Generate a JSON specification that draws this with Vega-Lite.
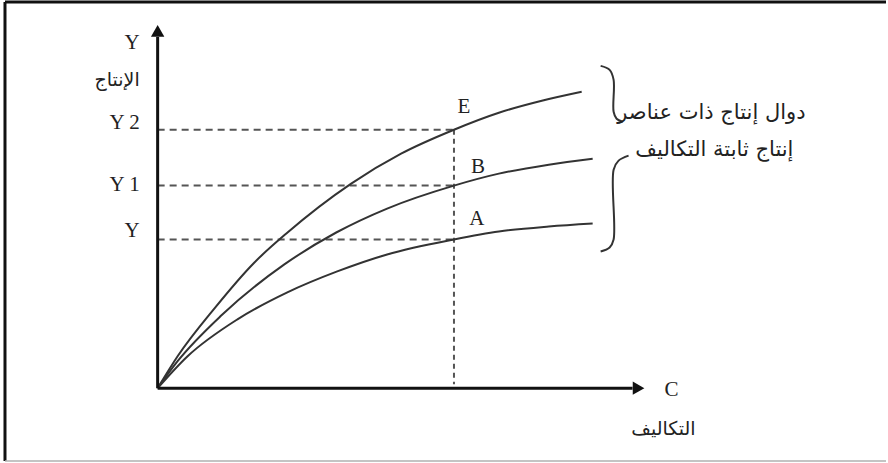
{
  "$schema": "https://vega.github.io/schema/vega-lite/v6.json",
  "width": 888,
  "height": 463,
  "autosize": {"type": "fit", "contains": "padding"},
  "padding": 0,
  "background": "white",
  "config": {"view": {"stroke": null}},
  "datasets": {
    "curves": [
      {"curve": "E", "x": 0, "y": 0}, {"curve": "E", "x": 20, "y": 32}, {"curve": "E", "x": 57, "y": 80}, {"curve": "E", "x": 97, "y": 126}, {"curve": "E", "x": 129, "y": 155}, {"curve": "E", "x": 194, "y": 205}, {"curve": "E", "x": 244, "y": 235}, {"curve": "E", "x": 297, "y": 259}, {"curve": "E", "x": 342, "y": 276}, {"curve": "E", "x": 385, "y": 288}, {"curve": "E", "x": 425, "y": 297},
      {"curve": "B", "x": 0, "y": 0}, {"curve": "B", "x": 20, "y": 27}, {"curve": "B", "x": 64, "y": 73}, {"curve": "B", "x": 127, "y": 124}, {"curve": "B", "x": 179, "y": 156}, {"curve": "B", "x": 230, "y": 180}, {"curve": "B", "x": 297, "y": 203}, {"curve": "B", "x": 342, "y": 215}, {"curve": "B", "x": 392, "y": 224}, {"curve": "B", "x": 436, "y": 230},
      {"curve": "A", "x": 0, "y": 0}, {"curve": "A", "x": 30, "y": 32}, {"curve": "A", "x": 80, "y": 69}, {"curve": "A", "x": 130, "y": 96}, {"curve": "A", "x": 180, "y": 117}, {"curve": "A", "x": 230, "y": 134}, {"curve": "A", "x": 297, "y": 149}, {"curve": "A", "x": 342, "y": 157}, {"curve": "A", "x": 392, "y": 162}, {"curve": "A", "x": 436, "y": 165}
    ],
    "dashes": [
      {"x": 0, "y": 259, "x2": 297, "y2": 259},
      {"x": 0, "y": 203, "x2": 297, "y2": 203},
      {"x": 0, "y": 149, "x2": 297, "y2": 149}
    ],
    "vdash": [
      {"x": 297, "y": 259, "x2": 297, "y2": 4}
    ],
    "axes": [
      {"x": 0, "y": 0, "x2": 0, "y2": 352},
      {"x": 0, "y": 0, "x2": 476, "y2": 0}
    ],
    "heads": [
      {"x": 0, "y": 358, "dir": "up"},
      {"x": 482, "y": 0, "dir": "right"}
    ],
    "frame": [
      {"x": -153, "y": 387, "x2": 730, "y2": 387, "kind": "dark"},
      {"x": -153, "y": 387, "x2": -153, "y2": -73, "kind": "dark"},
      {"x": -153, "y": -73, "x2": 730, "y2": -73, "kind": "light"}
    ],
    "brace": [
      {"part": "upper", "o": 1, "x": 444, "y": 323}, {"part": "upper", "o": 2, "x": 453, "y": 319}, {"part": "upper", "o": 3, "x": 457, "y": 309}, {"part": "upper", "o": 4, "x": 457, "y": 277}, {"part": "upper", "o": 5, "x": 460, "y": 270}, {"part": "upper", "o": 6, "x": 466, "y": 267},
      {"part": "lower", "o": 1, "x": 472, "y": 233}, {"part": "lower", "o": 2, "x": 462, "y": 228}, {"part": "lower", "o": 3, "x": 457, "y": 219}, {"part": "lower", "o": 4, "x": 457, "y": 149}, {"part": "lower", "o": 5, "x": 453, "y": 141}, {"part": "lower", "o": 6, "x": 444, "y": 137}
    ],
    "yLabels": [
      {"x": -18, "y": 346, "label": "Y"},
      {"x": -18, "y": 266, "label": "Y  2"},
      {"x": -18, "y": 204, "label": "Y  1"},
      {"x": -18, "y": 158, "label": "Y"}
    ],
    "pointLabels": [
      {"x": 307, "y": 282, "label": "E"},
      {"x": 321, "y": 222, "label": "B"},
      {"x": 320, "y": 170, "label": "A"},
      {"x": 515, "y": -2, "label": "C"}
    ],
    "arabicAxis": [
      {"x": -18, "y": 309, "label": "الإنتاج"}
    ],
    "arabicCenter": [
      {"x": 507, "y": -41, "label": "التكاليف"}
    ],
    "braceText": [
      {"x": 555, "y": 276, "label": "دوال إنتاج ذات عناصر"},
      {"x": 558, "y": 239, "label": "إنتاج ثابتة التكاليف"}
    ]
  },
  "encoding": {
    "x": {"field": "x", "type": "quantitative", "scale": {"domain": [-158, 730], "nice": false, "zero": false}, "axis": null},
    "y": {"field": "y", "type": "quantitative", "scale": {"domain": [-74, 389], "nice": false, "zero": false}, "axis": null}
  },
  "layer": [
    {
      "data": {"name": "frame"},
      "mark": {"type": "rule"},
      "encoding": {
        "x2": {"field": "x2"},
        "y2": {"field": "y2"},
        "color": {"field": "kind", "type": "nominal", "scale": {"domain": ["dark", "light"], "range": ["#111111", "#b0b0b0"]}, "legend": null},
        "strokeWidth": {"field": "kind", "type": "nominal", "scale": {"domain": ["dark", "light"], "range": [3, 1.5]}, "legend": null}
      }
    },
    {
      "data": {"name": "dashes"},
      "mark": {"type": "rule", "color": "#555555", "strokeWidth": 2, "strokeDash": [7, 5]},
      "encoding": {"x2": {"field": "x2"}, "y2": {"field": "y2"}}
    },
    {
      "data": {"name": "vdash"},
      "mark": {"type": "rule", "color": "#555555", "strokeWidth": 2, "strokeDash": [5, 4]},
      "encoding": {"x2": {"field": "x2"}, "y2": {"field": "y2"}}
    },
    {
      "data": {"name": "curves"},
      "mark": {"type": "line", "interpolate": "monotone", "color": "#333333", "strokeWidth": 2},
      "encoding": {"detail": {"field": "curve", "type": "nominal"}}
    },
    {
      "data": {"name": "brace"},
      "mark": {"type": "line", "interpolate": "catmull-rom", "color": "#333333", "strokeWidth": 2},
      "encoding": {"detail": {"field": "part", "type": "nominal"}, "order": {"field": "o", "type": "quantitative"}}
    },
    {
      "data": {"name": "axes"},
      "mark": {"type": "rule", "color": "#111111", "strokeWidth": 3},
      "encoding": {"x2": {"field": "x2"}, "y2": {"field": "y2"}}
    },
    {
      "data": {"name": "heads"},
      "mark": {"type": "point", "filled": true, "color": "#111111", "opacity": 1, "size": 180},
      "encoding": {
        "shape": {"field": "dir", "type": "nominal", "scale": {"domain": ["up", "right"], "range": ["triangle-up", "triangle-right"]}, "legend": null}
      }
    },
    {
      "data": {"name": "yLabels"},
      "mark": {"type": "text", "font": "Liberation Serif", "fontSize": 21, "color": "#222222", "baseline": "middle", "align": "right"},
      "encoding": {"text": {"field": "label"}}
    },
    {
      "data": {"name": "pointLabels"},
      "mark": {"type": "text", "font": "Liberation Serif", "fontSize": 21, "color": "#222222", "baseline": "middle", "align": "center"},
      "encoding": {"text": {"field": "label"}}
    },
    {
      "data": {"name": "arabicAxis"},
      "mark": {"type": "text", "font": "DejaVu Sans", "fontSize": 19, "color": "#222222", "baseline": "middle", "align": "right"},
      "encoding": {"text": {"field": "label"}}
    },
    {
      "data": {"name": "arabicCenter"},
      "mark": {"type": "text", "font": "DejaVu Sans", "fontSize": 19, "color": "#222222", "baseline": "middle", "align": "center"},
      "encoding": {"text": {"field": "label"}}
    },
    {
      "data": {"name": "braceText"},
      "mark": {"type": "text", "font": "DejaVu Sans", "fontSize": 21, "color": "#222222", "baseline": "middle", "align": "center"},
      "encoding": {"text": {"field": "label"}}
    }
  ]
}
